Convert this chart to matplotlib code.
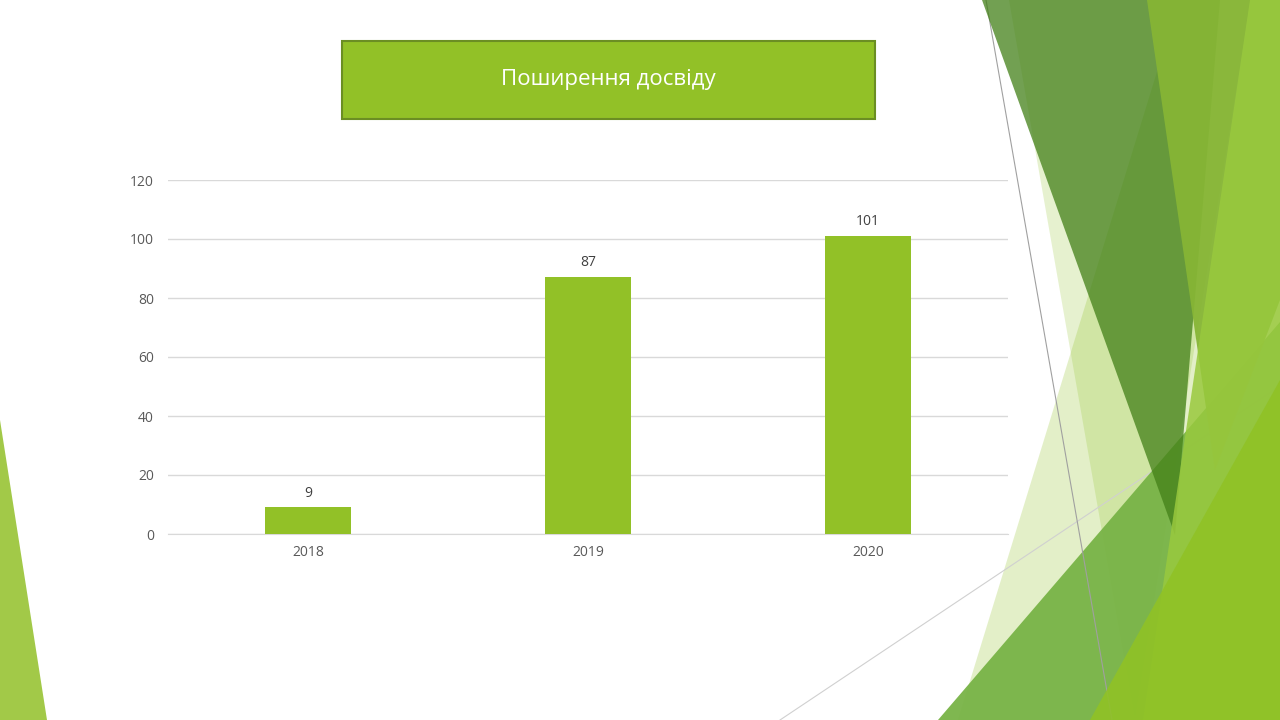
import matplotlib
matplotlib.use("Agg")
import matplotlib.pyplot as plt
from matplotlib.patches import Polygon, Rectangle

plt.rcParams['font.family'] = ['Open Sans', 'DejaVu Sans']

# chart data
years = ['2018', '2019', '2020']
values = [9, 87, 101]
title = 'Поширення досвіду'
y_ticks = [0, 20, 40, 60, 80, 100, 120]

bar_color = '#92C127'
grid_color = '#D9D9D9'
text_color = '#595959'

fig = plt.figure(figsize=(12.8, 7.2), dpi=100)

# slide background decoration (Facet-like triangles), pixel coords, y down
bg = fig.add_axes([0, 0, 1, 1], zorder=0)
bg.set_xlim(0, 1280)
bg.set_ylim(720, 0)
bg.axis('off')

shapes = [
    # left edge triangle
    ([(0, 420), (47, 720), (0, 720)], '#A2C948', 1.0),
    # pale triangles
    ([(1009, 0), (1250, 0), (1135, 720)], '#90C226', 0.22),
    ([(1179, 0), (1280, 0), (1280, 720), (958, 720)], '#90C226', 0.25),
]
for pts, col, a in shapes:
    bg.add_patch(Polygon(pts, closed=True, facecolor=col, edgecolor='none', alpha=a, zorder=1))

# faint grey line under the medium triangle
bg.plot([780, 1280], [720, 386], color='#D0D0D0', lw=0.8, zorder=2)

# medium green triangle
bg.add_patch(Polygon([(938, 720), (1280, 322), (1280, 720)], closed=True,
                     facecolor='#78B346', edgecolor='none', alpha=0.95, zorder=3))

# thin grey line
bg.plot([986, 1112], [0, 720], color='#A0A0A0', lw=0.8, zorder=4)

# dark green triangle
bg.add_patch(Polygon([(982, 0), (1220, 0), (1175, 535)], closed=True,
                     facecolor='#438018', edgecolor='none', alpha=0.75, zorder=5))
# bright column
bg.add_patch(Polygon([(1147, 0), (1280, 0), (1280, 300), (1215, 470)], closed=True,
                     facecolor='#86B535', edgecolor='none', alpha=0.95, zorder=6))
# right strip
bg.add_patch(Polygon([(1250, 0), (1280, 0), (1280, 720), (1143, 720)], closed=True,
                     facecolor='#99C93E', edgecolor='none', alpha=0.85, zorder=7))
# bottom-right bright triangle
bg.add_patch(Polygon([(1090, 720), (1280, 380), (1280, 720)], closed=True,
                     facecolor='#90C226', edgecolor='none', alpha=0.9, zorder=8))

# title box
bg.add_patch(Rectangle((342, 41), 533, 78, facecolor='#92C127', edgecolor='#6B8E23',
                       lw=1.5, zorder=10))
bg.text(608, 80, title, color='white', fontsize=16, ha='center', va='center', zorder=11)

# bar chart
ax = fig.add_axes([168 / 1280, 186 / 720, 840 / 1280, 354 / 720], zorder=1)
ax.patch.set_alpha(0)
x = list(range(len(years)))
bars = ax.bar(x, values, width=0.31, color=bar_color, zorder=3)
for xi, v in zip(x, values):
    ax.annotate(str(v), (xi, v), xytext=(0, 5), textcoords='offset points',
                ha='center', va='bottom', fontsize=10, color='#404040')

ax.set_xlim(-0.5, 2.5)
ax.set_ylim(0, 120)
ax.set_yticks(y_ticks)
ax.set_xticks(x)
ax.set_xticklabels(years)
ax.yaxis.grid(True, color=grid_color, lw=1)
ax.set_axisbelow(True)
for s in ['top', 'right', 'left']:
    ax.spines[s].set_visible(False)
ax.spines['bottom'].set_color(grid_color)
ax.tick_params(axis='both', length=0, labelsize=10, labelcolor=text_color)
ax.tick_params(axis='y', pad=10)
ax.tick_params(axis='x', pad=8)

fig.savefig('out.png', dpi=100)
